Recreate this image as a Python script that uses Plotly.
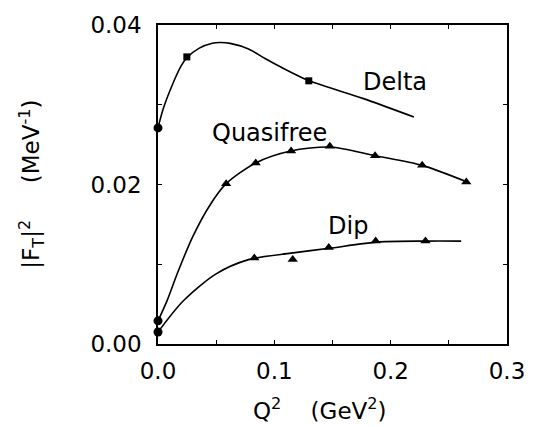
import plotly.graph_objects as go

# ---- data ----
delta_curve_x = [0.0, 0.0045, 0.0129, 0.020, 0.0248, 0.0355, 0.0468, 0.0530, 0.0620, 0.0778, 0.0920, 0.106, 0.130, 0.176, 0.220]
delta_curve_y = [0.0271, 0.0295, 0.0327, 0.0349, 0.0359, 0.0371, 0.0377, 0.0378, 0.0377, 0.0370, 0.0358, 0.0347, 0.0330, 0.0308, 0.02846]
delta_pts_x = [0.0248, 0.1296]
delta_pts_y = [0.0360, 0.0330]

quasi_curve_x = [0.0, 0.008, 0.017, 0.030, 0.045, 0.0586, 0.084, 0.114, 0.148, 0.187, 0.227, 0.266]
quasi_curve_y = [0.0029, 0.0055, 0.0090, 0.0135, 0.0175, 0.0201, 0.0227, 0.0242, 0.0247, 0.0236, 0.0224, 0.0203]
quasi_pts_x = [0.0586, 0.0840, 0.1144, 0.1477, 0.1866, 0.2271, 0.2650]
quasi_pts_y = [0.0201, 0.0227, 0.0242, 0.0248, 0.0236, 0.0224, 0.0203]

dip_curve_x = [0.0, 0.0214, 0.0496, 0.0778, 0.1144, 0.147, 0.1904, 0.230, 0.2606]
dip_curve_y = [0.0015, 0.00536, 0.00877, 0.01058, 0.01139, 0.0120, 0.0128, 0.0129, 0.0129]
dip_pts_x = [0.0828, 0.1158, 0.1468, 0.1871, 0.2299]
dip_pts_y = [0.01078, 0.01058, 0.0121, 0.0129, 0.0129]

zero_pts_x = [0.0, 0.0, 0.0]
zero_pts_y = [0.0271, 0.0029, 0.0015]

x_tickvals = [0.0, 0.05, 0.1, 0.15, 0.2, 0.25, 0.3]
x_ticktext = ["0.0", "", "0.1", "", "0.2", "", "0.3"]
y_tickvals = [0.0, 0.01, 0.02, 0.03, 0.04]
y_ticktext = ["0.00", "", "0.02", "", "0.04"]

labels = ["Delta", "Quasifree", "Dip"]
label_x = [0.2037, 0.0962, 0.163]
label_y = [0.0328, 0.02645, 0.0148]

FONT = "DejaVu Sans"
fig = go.Figure()

for cx, cy in [(delta_curve_x, delta_curve_y), (quasi_curve_x, quasi_curve_y), (dip_curve_x, dip_curve_y)]:
    fig.add_trace(go.Scatter(x=cx, y=cy, mode="lines", line=dict(color="black", width=1.6, shape="spline", smoothing=0.8),
                             showlegend=False, hoverinfo="skip"))

fig.add_trace(go.Scatter(x=delta_pts_x, y=delta_pts_y, mode="markers",
                         marker=dict(symbol="square", size=7, color="black"), cliponaxis=False, showlegend=False))
fig.add_trace(go.Scatter(x=quasi_pts_x + dip_pts_x, y=quasi_pts_y + dip_pts_y, mode="markers",
                         marker=dict(symbol="triangle-up", size=9, color="black"), cliponaxis=False, showlegend=False))
fig.add_trace(go.Scatter(x=zero_pts_x, y=zero_pts_y, mode="markers",
                         marker=dict(symbol="circle", size=9, color="black"), cliponaxis=False, showlegend=False))

for t, lx, ly in zip(labels, label_x, label_y):
    fig.add_annotation(x=lx, y=ly, text=t, showarrow=False, xanchor="center", yanchor="middle",
                       font=dict(family=FONT, size=24, color="black"))

fig.add_annotation(xref="paper", yref="paper", x=(323 - 158) / 355, y=(344.5 - 412) / 332.5,
                   text="Q<sup>2</sup>&nbsp;&nbsp;&nbsp;&nbsp;(GeV<sup>2</sup>)", showarrow=False,
                   xanchor="center", yanchor="middle", font=dict(family=FONT, size=23, color="black"))
fig.add_annotation(xref="paper", yref="paper", x=(29 - 158) / 355, y=0.5, textangle=-90,
                   text="|F<sub>T</sub>|<sup>2</sup>&nbsp;&nbsp;&nbsp;&nbsp;&nbsp;(MeV<sup>-1</sup>)", showarrow=False,
                   xanchor="center", yanchor="middle", font=dict(family=FONT, size=23, color="black"))

axis_common = dict(showgrid=False, zeroline=False, showline=True, linecolor="black", linewidth=1.5,
                   mirror="allticks", ticks="inside", ticklen=4, tickcolor="black", tickwidth=1.2,
                   tickfont=dict(family=FONT, size=23, color="black"))
fig.update_xaxes(range=[0, 0.3], tickvals=x_tickvals, ticktext=x_ticktext, ticklabelstandoff=6, **axis_common)
fig.update_yaxes(range=[0, 0.04], tickvals=y_tickvals, ticktext=y_ticktext, ticklabelstandoff=10, **axis_common)

fig.update_layout(width=537, height=427, margin=dict(l=158, r=24, t=12, b=82.5, pad=0),
                  plot_bgcolor="white", paper_bgcolor="white", showlegend=False)

fig.write_html("out.html")
